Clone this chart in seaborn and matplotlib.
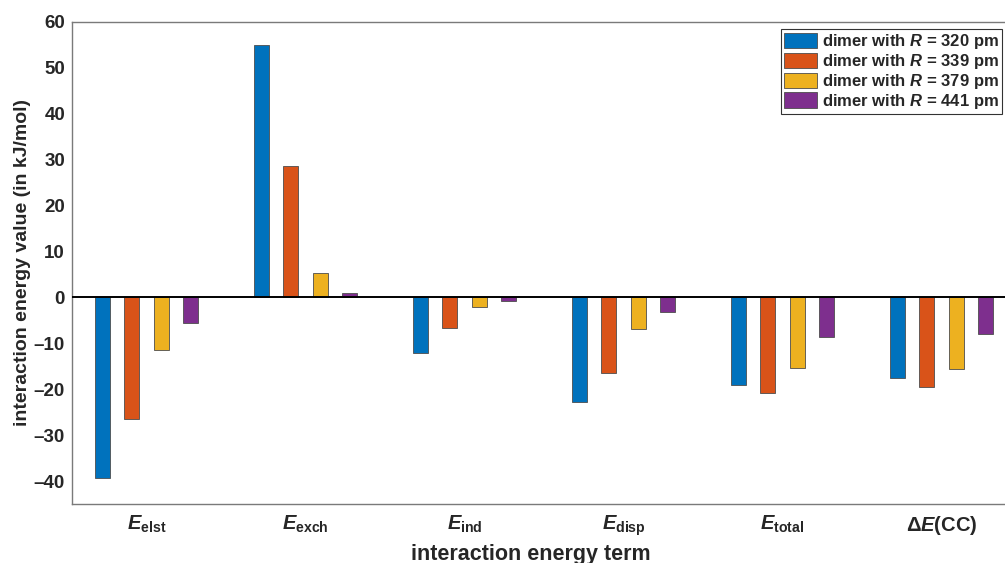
import matplotlib
matplotlib.use("Agg")
import matplotlib.pyplot as plt
import seaborn as sns
import pandas as pd

# ---- data ----
terms = ["elst", "exch", "ind", "disp", "total", "CC"]
term_labels = [r"$\mathit{E}_{\mathrm{elst}}$", r"$\mathit{E}_{\mathrm{exch}}$",
               r"$\mathit{E}_{\mathrm{ind}}$", r"$\mathit{E}_{\mathrm{disp}}$",
               r"$\mathit{E}_{\mathrm{total}}$", r"$\mathit{ΔE}$(CC)"]
series_names = [r"dimer with $\mathit{R}$ = 320 pm", r"dimer with $\mathit{R}$ = 339 pm",
                r"dimer with $\mathit{R}$ = 379 pm", r"dimer with $\mathit{R}$ = 441 pm"]
v320 = [-39.3, 55.0, -12.0, -22.8, -19.0, -17.5]
v339 = [-26.5, 28.7, -6.7, -16.5, -20.8, -19.6]
v379 = [-11.5, 5.4, -2.0, -6.9, -15.4, -15.6]
v441 = [-5.6, 0.9, -0.8, -3.2, -8.6, -8.0]
yticks = [-40, -30, -20, -10, 0, 10, 20, 30, 40, 50, 60]
colors = ["#0072BD", "#D95319", "#EDB120", "#7E2F8E"]

rows = []
for name, vals in zip(series_names, [v320, v339, v379, v441]):
    for t, v in zip(terms, vals):
        rows.append({"term": t, "value": v, "dimer": name})
df = pd.DataFrame(rows)

sns.set_style("white")
plt.rcParams["font.family"] = ["Liberation Sans", "DejaVu Sans"]
plt.rcParams["font.weight"] = "bold"
plt.rcParams["mathtext.fontset"] = "custom"
plt.rcParams["mathtext.it"] = "Liberation Sans:italic:bold"
plt.rcParams["mathtext.rm"] = "Liberation Sans:bold"
plt.rcParams["mathtext.bf"] = "Liberation Sans:bold"

W, H = 1005, 563
fig = plt.figure(figsize=(W / 100, H / 100), dpi=100)
ax = fig.add_axes([72 / W, 1 - 504 / H, (1016 - 72) / W, (504 - 22) / H])

sns.barplot(data=df, x="term", y="value", hue="dimer", order=terms,
            hue_order=series_names, palette=colors, saturation=1,
            width=0.737, gap=0.49, errorbar=None, edgecolor="#4d4d4d",
            linewidth=0.6, ax=ax)

ax.axhline(0, color="black", lw=1.4, zorder=5)
ax.set_xlim(-0.469, 5.469)
ax.set_ylim(-45, 60)
ax.set_yticks(yticks)
ax.set_yticklabels([str(t).replace("-", "\u2013") for t in yticks], fontsize=13.5,
                   fontweight="bold", color="#262626")
ax.set_xticks(range(len(terms)))
ax.set_xticklabels(term_labels, fontsize=14.5, fontweight="bold", color="#262626")
ax.tick_params(axis="both", length=0)
ax.tick_params(axis="y", pad=5)
ax.tick_params(axis="x", pad=7)

for s in ["left", "top", "bottom", "right"]:
    ax.spines[s].set_color("#7a7a7a")
    ax.spines[s].set_linewidth(1.0)

ax.set_ylabel("interaction energy value (in kJ/mol)", fontsize=14, fontweight="bold",
              color="#262626")
ax.yaxis.label.set_va("center")
ax.yaxis.set_label_coords(23 / W, 1 - 262 / H, transform=fig.transFigure)
ax.set_xlabel("interaction energy term", fontsize=15.5, fontweight="bold", color="#262626")
ax.xaxis.set_label_coords(531 / W, 1 - 544 / H, transform=fig.transFigure)

leg = ax.legend(loc="upper right", bbox_to_anchor=(1002 / W, 1 - 29 / H),
                bbox_transform=fig.transFigure, fontsize=12, frameon=True,
                fancybox=False, edgecolor="black", borderaxespad=0,
                handlelength=1.95, handleheight=1.05, labelspacing=0.05,
                handletextpad=0.3, borderpad=0.2, title=None)
leg.get_frame().set_linewidth(0.8)
for txt in leg.get_texts():
    txt.set_fontweight("bold")

fig.savefig("out.png", dpi=100)
